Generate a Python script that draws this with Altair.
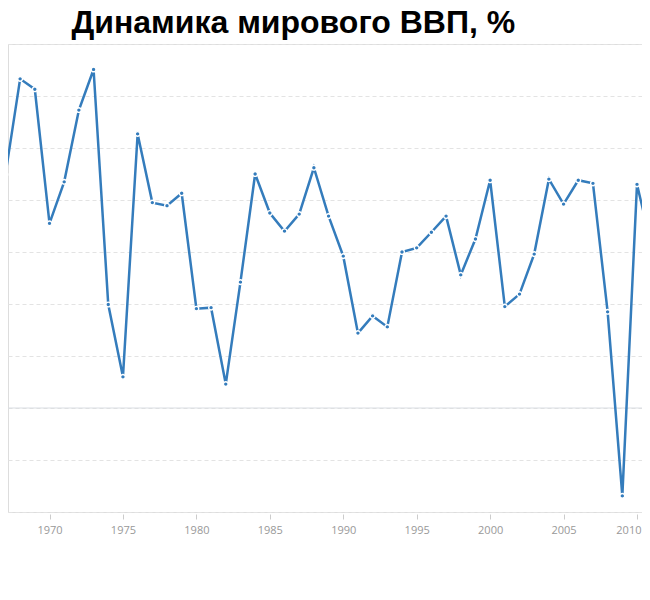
import altair as alt
import pandas as pd

years = list(range(1966, 2012))
growth = [6.0, 4.49, 6.33, 6.13, 3.55, 4.35, 5.73, 6.51, 1.99, 0.60,
          5.27, 3.95, 3.89, 4.13, 1.91, 1.93, 0.46, 2.42, 4.50, 3.75,
          3.40, 3.73, 4.62, 3.69, 2.92, 1.44, 1.77, 1.56, 3.00, 3.08,
          3.38, 3.69, 2.56, 3.25, 4.38, 1.95, 2.19, 2.96, 4.40, 3.92,
          4.38, 4.32, 1.85, -1.69, 4.30, 3.10]
x_ticks = [1970, 1975, 1980, 1985, 1990, 1995, 2000, 2005, 2010]
y_grid = [-2, -1, 0, 1, 2, 3, 4, 5, 6, 7]
title_text = "Динамика мирового ВВП, %"

df = pd.DataFrame({"year": years, "growth": growth})
zero = pd.DataFrame({"y": [0]})

LINE = "#347cbc"
YSCALE = alt.Scale(domain=[-2, 7], nice=False)

x_enc = alt.X(
    "year:Q",
    scale=alt.Scale(domain=[1967.174, 2010.34], nice=False, zero=False),
    axis=alt.Axis(
        values=x_ticks, format="d", title=None, grid=False, domain=False,
        ticks=True, tickSize=5, tickColor="#cccccc", offset=2,
        labelColor="#999999", labelFont="Open Sans", labelFontSize=11,
        labelPadding=5, labelFlush=8, labelFlushOffset=4,
    ),
)
y_enc = alt.Y(
    "growth:Q",
    scale=YSCALE,
    axis=alt.Axis(
        values=y_grid, labels=False, ticks=False, domain=False, title=None,
        grid=True, gridColor="#e3e3e3", gridDash=[4, 3], gridWidth=1,
    ),
)

rule = alt.Chart(zero).mark_rule(color="#d9dde2", strokeWidth=1).encode(
    y=alt.Y("y:Q", scale=YSCALE)
)

line = alt.Chart(df).mark_line(color=LINE, strokeWidth=2.5, clip=True).encode(
    x=x_enc, y=y_enc
)
pts = alt.Chart(df).mark_point(
    filled=True, size=22, strokeWidth=1.4, opacity=1, clip=True,
).encode(
    x=alt.X("year:Q"), y=alt.Y("growth:Q"),
    fill=alt.value(LINE), stroke=alt.value("white"),
)

chart = alt.layer(rule, line, pts).properties(
    width=634,
    height=468,
    title=alt.TitleParams(
        text=title_text, anchor="start", dx=64, offset=4,
        font="Liberation Sans", fontSize=32,
        fontWeight="bold", color="#000000",
    ),
    autosize=alt.AutoSizeParams(type="none"),
    padding={"left": 0, "top": 36, "right": 0, "bottom": 40},
).configure_view(stroke=None).configure(background="white")

chart.save("out.html", embed_options={"renderer": "svg", "actions": False})
